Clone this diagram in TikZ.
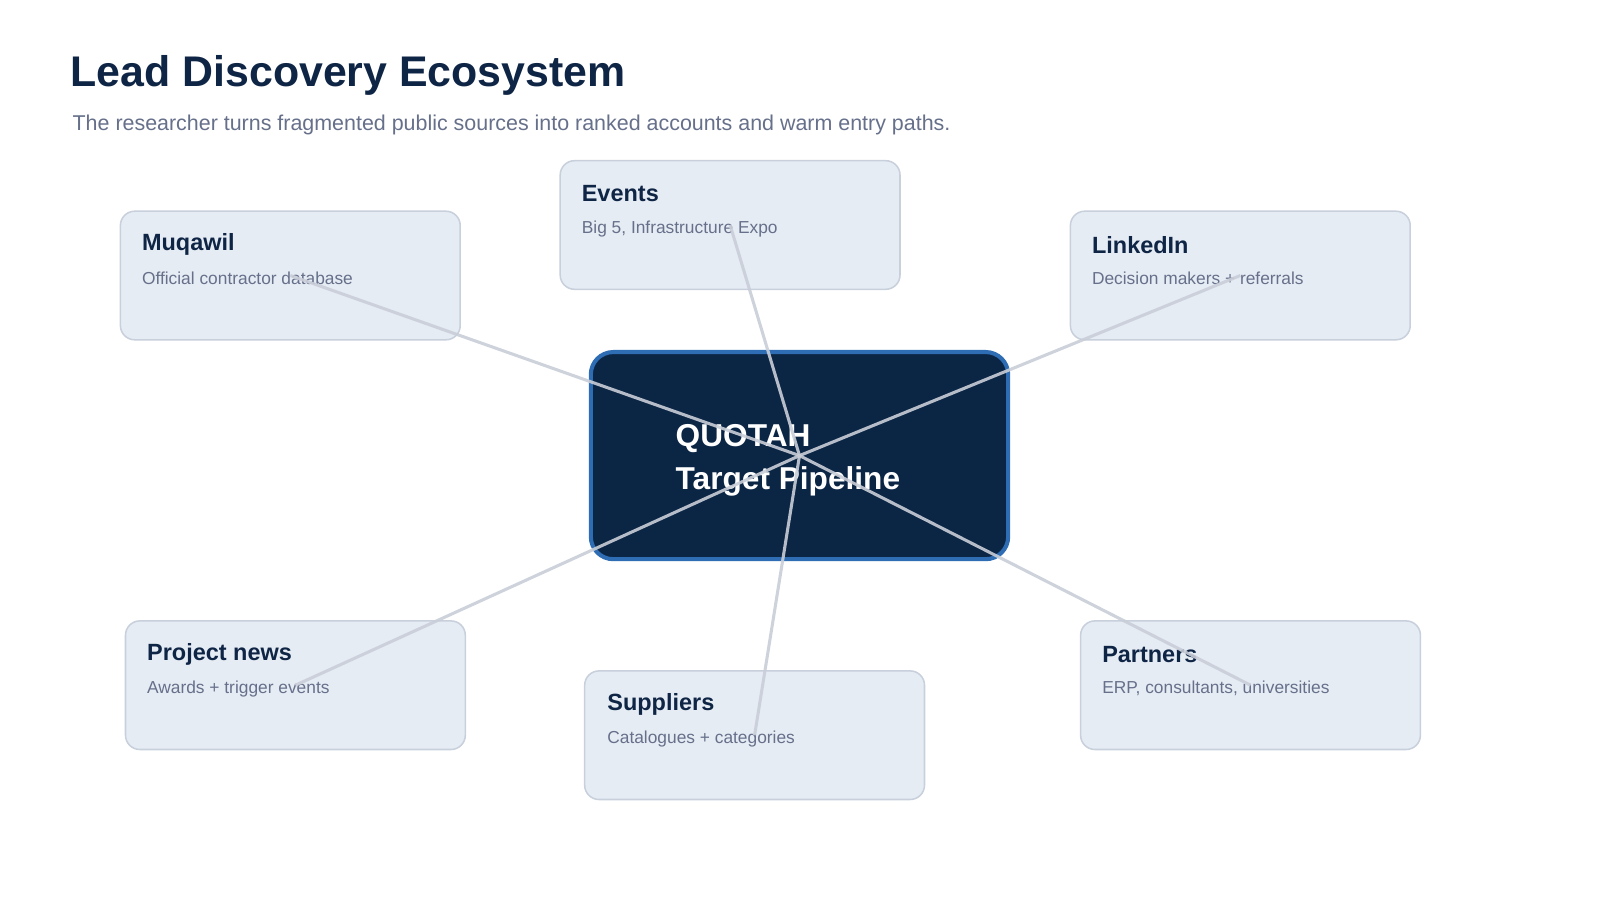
\documentclass[tikz,border=0pt]{standalone}
\usepackage{fontspec}
\setmainfont{Liberation Sans}
\begin{document}
\begin{tikzpicture}[x=1pt,y=-1pt,
 box/.style={draw=bd,fill=bf,line width=1.5pt,rounded corners=14pt,minimum width=333pt,minimum height=126pt,inner sep=0pt},
 bt/.style={anchor=west,text=navy,font=\bfseries\fontsize{23}{27}\selectfont,inner sep=0pt},
 bs/.style={anchor=west,text=sub,font=\fontsize{17}{20}\selectfont,inner sep=0pt},
 link/.style={draw=ln,line width=3pt,opacity=0.9}]
\definecolor{navy}{HTML}{0F2545}
\definecolor{cf}{HTML}{0B2545}
\definecolor{cb}{HTML}{2E6DB4}
\definecolor{bf}{HTML}{E6ECF4}
\definecolor{bd}{HTML}{C8D0DC}
\definecolor{sub}{HTML}{66708A}
\definecolor{ln}{HTML}{C9CED8}
\useasboundingbox (0,0) rectangle (1568,882);
\fill[white] (0,0) rectangle (1568,882);
\node[anchor=west,text=navy,font=\bfseries\fontsize{42}{48}\selectfont,inner sep=0pt] (title) at (69,74) {Lead Discovery Ecosystem};
\node[anchor=west,text=sub,font=\fontsize{21}{25}\selectfont,inner sep=0pt] (subt) at (71,122) {The researcher turns fragmented public sources into ranked accounts and warm entry paths.};
\node[draw=cb,fill=cf,line width=4pt,rounded corners=22pt,minimum width=409pt,minimum height=203pt] (c) at (783.5,446.5) {};
\node[anchor=west,text=white,font=\bfseries\fontsize{31}{42}\selectfont,align=left,inner sep=0pt] (ct) at (662,451) {QUOTAH\\Target Pipeline};
\node[box] (m) at (284.5,270) {};
\node[bt] at (139,240) {Muqawil}; \node[bs] at (139,273) {Official contractor database};
\node[box] (e) at (715.5,220.5) {};
\node[bt] at (570,190) {Events}; \node[bs] at (570,224) {Big 5, Infrastructure Expo};
\node[box] (l) at (1215.5,270) {};
\node[bt] at (1070,240) {LinkedIn}; \node[bs] at (1070,273) {Decision makers + referrals};
\node[box] (p) at (289.5,671.5) {};
\node[bt] at (144,641) {Project news}; \node[bs] at (144,675) {Awards + trigger events};
\node[box] (s) at (739.5,720.5) {};
\node[bt] at (595,690) {Suppliers}; \node[bs] at (595,724) {Catalogues + categories};
\node[box] (r) at (1225.5,671.5) {};
\node[bt] at (1080,641) {Partners}; \node[bs] at (1080,675) {ERP, consultants, universities};
\foreach \n in {m,e,l,p,s,r} \draw[link] (\n.center) -- (c.center);
\end{tikzpicture}
\end{document}
